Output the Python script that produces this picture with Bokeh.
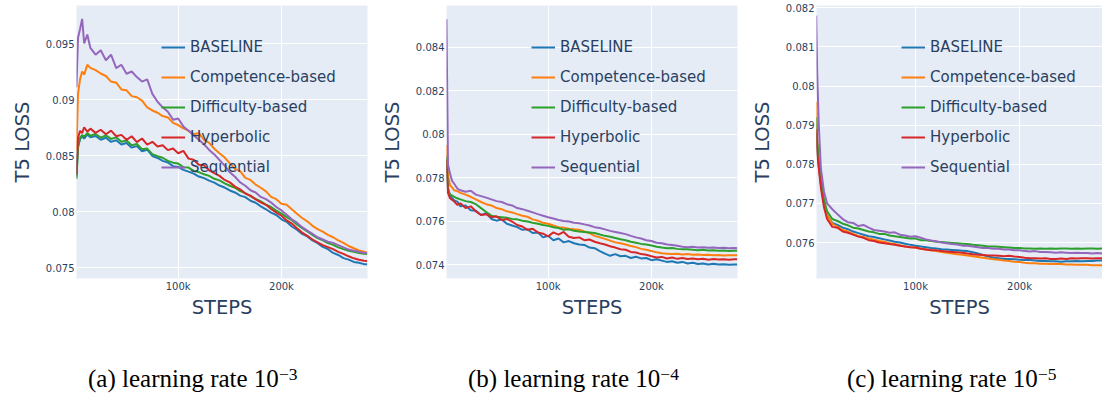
from bokeh.plotting import figure
from bokeh.models import FixedTicker, Range1d, Legend, LegendItem, Div
from bokeh.layouts import row, column
from bokeh.embed import file_html
from bokeh.resources import INLINE

series_names = ["BASELINE", "Competence-based", "Difficulty-based", "Hyperbolic", "Sequential"]
colors = ["#1f77b4", "#ff7f0e", "#2ca02c", "#d62728", "#9467bd"]

# training steps (thousands)
steps_ab_k = [1.5, 3, 5, 7, 9, 12, 15, 20, 25, 30, 35, 40, 45, 50, 55, 60, 65, 70, 75, 80,
              85, 90, 95, 100, 105, 110, 115, 120, 125, 130, 135, 140, 145, 150, 155, 160,
              165, 170, 175, 180, 185, 190, 195, 200, 205, 210, 215, 220, 225, 230, 235,
              240, 245, 250, 255, 260, 265, 270, 275, 280, 283]
steps_c_k = [4.5, 5.5, 7, 9, 12, 15, 20, 25, 30, 35, 40, 45, 50, 55, 60, 65, 70, 75, 80,
             85, 90, 95, 100, 105, 110, 115, 120, 125, 130, 135, 140, 145, 150, 155, 160,
             165, 170, 175, 180, 185, 190, 195, 200, 205, 210, 215, 220, 225, 230, 235,
             240, 245, 250, 255, 260, 265, 270, 275, 280, 283]

# (a) learning rate 1e-3
a_baseline = [0.08310, 0.08580, 0.08645, 0.08672, 0.08650, 0.08688, 0.08662, 0.08674, 0.08641, 0.08658,
              0.08622, 0.08636, 0.08598, 0.08612, 0.08570, 0.08584, 0.08538, 0.08552, 0.08496, 0.08478,
              0.08452, 0.08438, 0.08405, 0.08398, 0.08372, 0.08356, 0.08338, 0.08312, 0.08298, 0.08276,
              0.08258, 0.08232, 0.08214, 0.08188, 0.08170, 0.08142, 0.08128, 0.08096, 0.08078, 0.08046,
              0.08020, 0.07990, 0.07968, 0.07930, 0.07908, 0.07866, 0.07838, 0.07800, 0.07778, 0.07742,
              0.07718, 0.07684, 0.07664, 0.07630, 0.07612, 0.07584, 0.07570, 0.07550, 0.07542, 0.07530,
              0.07528]
a_competence = [0.08550, 0.09050, 0.09180, 0.09250, 0.09222, 0.09310, 0.09282, 0.09262, 0.09232, 0.09210,
                0.09160, 0.09150, 0.09090, 0.09082, 0.09030, 0.09020, 0.08990, 0.08930, 0.08902, 0.08882,
                0.08852, 0.08840, 0.08792, 0.08772, 0.08742, 0.08722, 0.08690, 0.08700, 0.08640, 0.08612,
                0.08560, 0.08520, 0.08482, 0.08430, 0.08380, 0.08360, 0.08300, 0.08282, 0.08240, 0.08212,
                0.08180, 0.08130, 0.08110, 0.08070, 0.08060, 0.08020, 0.07980, 0.07942, 0.07912, 0.07872,
                0.07842, 0.07820, 0.07792, 0.07770, 0.07742, 0.07720, 0.07692, 0.07672, 0.07652, 0.07640,
                0.07632]
a_difficulty = [0.08290, 0.08570, 0.08660, 0.08682, 0.08668, 0.08700, 0.08676, 0.08692, 0.08660, 0.08680,
                0.08648, 0.08662, 0.08622, 0.08634, 0.08592, 0.08602, 0.08556, 0.08562, 0.08512, 0.08494,
                0.08480, 0.08452, 0.08436, 0.08428, 0.08396, 0.08392, 0.08362, 0.08352, 0.08332, 0.08318,
                0.08292, 0.08278, 0.08252, 0.08230, 0.08212, 0.08182, 0.08164, 0.08138, 0.08112, 0.08090,
                0.08062, 0.08040, 0.08008, 0.07982, 0.07950, 0.07922, 0.07884, 0.07852, 0.07822, 0.07792,
                0.07762, 0.07742, 0.07718, 0.07702, 0.07680, 0.07664, 0.07650, 0.07640, 0.07630, 0.07622,
                0.07620]
a_hyperbolic = [0.08330, 0.08660, 0.08720, 0.08700, 0.08752, 0.08712, 0.08740, 0.08702, 0.08730, 0.08690,
                0.08722, 0.08672, 0.08684, 0.08640, 0.08672, 0.08620, 0.08652, 0.08598, 0.08622, 0.08580,
                0.08592, 0.08548, 0.08562, 0.08520, 0.08542, 0.08472, 0.08462, 0.08418, 0.08412, 0.08368,
                0.08342, 0.08318, 0.08282, 0.08260, 0.08222, 0.08198, 0.08160, 0.08142, 0.08108, 0.08082,
                0.08060, 0.08022, 0.07990, 0.07962, 0.07920, 0.07892, 0.07850, 0.07812, 0.07782, 0.07750,
                0.07724, 0.07700, 0.07682, 0.07664, 0.07640, 0.07622, 0.07600, 0.07582, 0.07570, 0.07560,
                0.07558]
a_sequential = [0.09110, 0.09550, 0.09630, 0.09720, 0.09500, 0.09580, 0.09460, 0.09400, 0.09440, 0.09350,
                0.09400, 0.09280, 0.09310, 0.09230, 0.09250, 0.09200, 0.09160, 0.09180, 0.09050, 0.08980,
                0.08930, 0.08890, 0.08820, 0.08830, 0.08760, 0.08720, 0.08680, 0.08640, 0.08600, 0.08550,
                0.08510, 0.08460, 0.08410, 0.08350, 0.08310, 0.08260, 0.08230, 0.08190, 0.08170, 0.08130,
                0.08110, 0.08080, 0.08040, 0.08010, 0.07970, 0.07930, 0.07900, 0.07860, 0.07830, 0.07800,
                0.07770, 0.07750, 0.07730, 0.07720, 0.07700, 0.07680, 0.07660, 0.07650, 0.07640, 0.07630,
                0.07630]

# (b) learning rate 1e-4
b_baseline = [0.07900, 0.07752, 0.07718, 0.07705, 0.07695, 0.07690, 0.07668, 0.07672, 0.07650, 0.07648,
              0.07628, 0.07636, 0.07610, 0.07602, 0.07608, 0.07588, 0.07580, 0.07572, 0.07560, 0.07562,
              0.07545, 0.07548, 0.07525, 0.07532, 0.07512, 0.07520, 0.07502, 0.07508, 0.07498, 0.07492,
              0.07490, 0.07478, 0.07475, 0.07462, 0.07450, 0.07440, 0.07448, 0.07438, 0.07440, 0.07430,
              0.07436, 0.07428, 0.07430, 0.07420, 0.07424, 0.07418, 0.07412, 0.07415, 0.07408, 0.07412,
              0.07405, 0.07408, 0.07402, 0.07405, 0.07400, 0.07403, 0.07400, 0.07401, 0.07399, 0.07400,
              0.07400]
b_competence = [0.07950, 0.07810, 0.07765, 0.07755, 0.07742, 0.07738, 0.07730, 0.07722, 0.07712, 0.07700,
                0.07688, 0.07678, 0.07672, 0.07660, 0.07655, 0.07645, 0.07640, 0.07632, 0.07625, 0.07620,
                0.07608, 0.07602, 0.07592, 0.07588, 0.07580, 0.07572, 0.07570, 0.07565, 0.07562, 0.07560,
                0.07552, 0.07545, 0.07532, 0.07525, 0.07518, 0.07510, 0.07502, 0.07498, 0.07492, 0.07485,
                0.07480, 0.07472, 0.07468, 0.07462, 0.07456, 0.07452, 0.07450, 0.07448, 0.07450, 0.07446,
                0.07448, 0.07445, 0.07446, 0.07444, 0.07445, 0.07443, 0.07444, 0.07442, 0.07443, 0.07443,
                0.07443]
b_difficulty = [0.07890, 0.07745, 0.07722, 0.07718, 0.07712, 0.07705, 0.07700, 0.07692, 0.07688, 0.07678,
                0.07660, 0.07642, 0.07625, 0.07620, 0.07618, 0.07615, 0.07610, 0.07608, 0.07602, 0.07598,
                0.07592, 0.07588, 0.07582, 0.07578, 0.07572, 0.07568, 0.07560, 0.07562, 0.07555, 0.07552,
                0.07550, 0.07548, 0.07545, 0.07538, 0.07532, 0.07528, 0.07522, 0.07516, 0.07512, 0.07505,
                0.07500, 0.07495, 0.07492, 0.07488, 0.07482, 0.07478, 0.07475, 0.07476, 0.07472, 0.07470,
                0.07470, 0.07468, 0.07466, 0.07468, 0.07465, 0.07466, 0.07463, 0.07464, 0.07462, 0.07463,
                0.07463]
b_hyperbolic = [0.07880, 0.07730, 0.07705, 0.07698, 0.07690, 0.07675, 0.07682, 0.07660, 0.07668, 0.07645,
                0.07628, 0.07632, 0.07618, 0.07622, 0.07605, 0.07610, 0.07598, 0.07582, 0.07575, 0.07560,
                0.07565, 0.07548, 0.07542, 0.07530, 0.07548, 0.07538, 0.07550, 0.07528, 0.07522, 0.07525,
                0.07512, 0.07515, 0.07505, 0.07498, 0.07492, 0.07484, 0.07478, 0.07470, 0.07468, 0.07458,
                0.07455, 0.07448, 0.07445, 0.07438, 0.07432, 0.07435, 0.07428, 0.07432, 0.07426, 0.07430,
                0.07425, 0.07428, 0.07424, 0.07426, 0.07422, 0.07425, 0.07423, 0.07424, 0.07422, 0.07424,
                0.07424]
b_sequential = [0.08530, 0.07860, 0.07818, 0.07785, 0.07772, 0.07750, 0.07742, 0.07735, 0.07740, 0.07722,
                0.07715, 0.07708, 0.07700, 0.07692, 0.07688, 0.07678, 0.07672, 0.07660, 0.07655, 0.07648,
                0.07640, 0.07632, 0.07625, 0.07618, 0.07612, 0.07605, 0.07600, 0.07598, 0.07592, 0.07590,
                0.07585, 0.07580, 0.07572, 0.07568, 0.07562, 0.07555, 0.07550, 0.07545, 0.07540, 0.07532,
                0.07525, 0.07520, 0.07512, 0.07508, 0.07500, 0.07498, 0.07492, 0.07490, 0.07486, 0.07482,
                0.07480, 0.07482, 0.07478, 0.07480, 0.07477, 0.07478, 0.07476, 0.07477, 0.07475, 0.07476,
                0.07475]

# (c) learning rate 1e-5
c_baseline = [0.07880, 0.07840, 0.07795, 0.07750, 0.07700, 0.07670, 0.07650,
              0.07645, 0.07638, 0.07634, 0.07628, 0.07624, 0.07620, 0.07616, 0.07614, 0.07611, 0.07608,
              0.07605, 0.07602, 0.07600, 0.07597, 0.07594, 0.07592, 0.07590, 0.07588, 0.07586, 0.07585,
              0.07583, 0.07582, 0.07581, 0.07580, 0.07579, 0.07578, 0.07575, 0.07572, 0.07568, 0.07564,
              0.07561, 0.07560, 0.07558, 0.07558, 0.07557, 0.07556, 0.07555, 0.07555, 0.07554, 0.07553,
              0.07553, 0.07552, 0.07552, 0.07551, 0.07552, 0.07552, 0.07553, 0.07552, 0.07553, 0.07553,
              0.07554, 0.07554, 0.07554]
c_competence = [0.07960, 0.07860, 0.07800, 0.07750, 0.07700, 0.07670, 0.07648,
                0.07640, 0.07632, 0.07628, 0.07622, 0.07617, 0.07614, 0.07610, 0.07607, 0.07604, 0.07602,
                0.07598, 0.07596, 0.07593, 0.07590, 0.07588, 0.07587, 0.07584, 0.07582, 0.07580, 0.07578,
                0.07576, 0.07574, 0.07572, 0.07570, 0.07569, 0.07567, 0.07565, 0.07563, 0.07561, 0.07559,
                0.07557, 0.07556, 0.07554, 0.07553, 0.07551, 0.07550, 0.07548, 0.07547, 0.07547, 0.07546,
                0.07546, 0.07545, 0.07546, 0.07545, 0.07544, 0.07544, 0.07543, 0.07543, 0.07543, 0.07542,
                0.07542, 0.07542, 0.07542]
c_difficulty = [0.07920, 0.07860, 0.07810, 0.07760, 0.07710, 0.07680, 0.07660,
                0.07655, 0.07648, 0.07644, 0.07638, 0.07636, 0.07632, 0.07628, 0.07626, 0.07622, 0.07622,
                0.07618, 0.07616, 0.07614, 0.07612, 0.07610, 0.07610, 0.07606, 0.07606, 0.07604, 0.07602,
                0.07601, 0.07600, 0.07599, 0.07598, 0.07597, 0.07596, 0.07594, 0.07593, 0.07592, 0.07590,
                0.07590, 0.07589, 0.07588, 0.07587, 0.07586, 0.07586, 0.07585, 0.07585, 0.07584, 0.07585,
                0.07584, 0.07585, 0.07584, 0.07585, 0.07585, 0.07584, 0.07585, 0.07584, 0.07585, 0.07585,
                0.07584, 0.07585, 0.07585]
c_hyperbolic = [0.07890, 0.07830, 0.07790, 0.07740, 0.07690, 0.07660, 0.07640,
                0.07638, 0.07628, 0.07625, 0.07620, 0.07615, 0.07612, 0.07606, 0.07604, 0.07600, 0.07598,
                0.07596, 0.07594, 0.07592, 0.07590, 0.07588, 0.07587, 0.07584, 0.07582, 0.07580, 0.07580,
                0.07578, 0.07577, 0.07576, 0.07575, 0.07574, 0.07572, 0.07570, 0.07569, 0.07568, 0.07567,
                0.07567, 0.07566, 0.07565, 0.07566, 0.07564, 0.07563, 0.07561, 0.07560, 0.07560, 0.07559,
                0.07560, 0.07558, 0.07558, 0.07559, 0.07558, 0.07560, 0.07559, 0.07560, 0.07560, 0.07559,
                0.07560, 0.07560, 0.07560]
c_sequential = [0.08180, 0.08030, 0.07900, 0.07790, 0.07730, 0.07700, 0.07685,
                0.07672, 0.07660, 0.07652, 0.07650, 0.07642, 0.07645, 0.07638, 0.07632, 0.07630, 0.07628,
                0.07625, 0.07626, 0.07620, 0.07618, 0.07615, 0.07616, 0.07612, 0.07608, 0.07605, 0.07603,
                0.07600, 0.07598, 0.07596, 0.07595, 0.07592, 0.07592, 0.07590, 0.07588, 0.07586, 0.07586,
                0.07584, 0.07584, 0.07582, 0.07582, 0.07580, 0.07580, 0.07578, 0.07577, 0.07578, 0.07576,
                0.07576, 0.07575, 0.07574, 0.07575, 0.07574, 0.07573, 0.07574, 0.07573, 0.07573, 0.07572,
                0.07573, 0.07572, 0.07572]

x_ticks = [100000, 200000]
x_tick_labels = ["100k", "200k"]
a_yticks = [0.075, 0.08, 0.085, 0.09, 0.095]
a_ylabels = ["0.075", "0.08", "0.085", "0.09", "0.095"]
b_yticks = [0.074, 0.076, 0.078, 0.08, 0.082, 0.084]
b_ylabels = ["0.074", "0.076", "0.078", "0.08", "0.082", "0.084"]
c_yticks = [0.076, 0.077, 0.078, 0.079, 0.08, 0.081, 0.082]
c_ylabels = ["0.076", "0.077", "0.078", "0.079", "0.08", "0.081", "0.082"]

captions = [("(a) learning rate 10", "\u22123"), ("(b) learning rate 10", "\u22124"), ("(c) learning rate 10", "\u22125")]

TXT = "#2a3f5f"
FONT = "DejaVu Sans"
FIG_H = 362


def make_panel(steps_k, series, xr, yr, yticks, ylabels, width, left, right):
    steps = [s * 1000 for s in steps_k]
    p = figure(width=width, height=FIG_H, x_range=Range1d(*xr), y_range=Range1d(*yr),
               output_backend="svg", toolbar_location=None,
               min_border_left=left, min_border_right=right, min_border_top=5,
               min_border_bottom=FIG_H - 278,
               background_fill_color="#E5ECF6", border_fill_color="white", outline_line_color=None)
    p.grid.grid_line_color = "white"
    p.grid.grid_line_width = 1
    p.xaxis.ticker = FixedTicker(ticks=x_ticks)
    p.xaxis.major_label_overrides = dict(zip(x_ticks, x_tick_labels))
    p.yaxis.ticker = FixedTicker(ticks=yticks)
    p.yaxis.major_label_overrides = dict(zip(yticks, ylabels))
    for ax in (p.xaxis, p.yaxis):
        ax.axis_line_color = None
        ax.major_tick_line_color = None
        ax.minor_tick_line_color = None
        ax.major_tick_out = 0
        ax.major_tick_in = 0
        ax.major_label_text_font = FONT
        ax.major_label_text_font_size = "10px"
        ax.major_label_text_color = TXT
        ax.axis_label_text_font = FONT
        ax.axis_label_text_font_size = "19.5px"
        ax.axis_label_text_font_style = "normal"
        ax.axis_label_text_color = TXT
    p.xaxis.axis_label = "STEPS"
    p.yaxis.axis_label = "T5 LOSS"
    p.xaxis.major_label_standoff = 2
    p.xaxis.axis_label_standoff = 1
    p.yaxis.major_label_standoff = 2
    p.yaxis.axis_label_standoff = 9

    items = []
    for name, color, ys in zip(series_names, colors, series):
        r = p.line(steps, ys, line_color=color, line_width=2)
        items.append(LegendItem(label=name, renderers=[r]))
    legend = Legend(items=items, location=(85, 101), orientation="vertical",
                    label_text_font=FONT, label_text_font_size="15px", label_text_color=TXT,
                    glyph_width=24, glyph_height=20, label_height=20, label_standoff=5,
                    spacing=10, padding=0, margin=0,
                    background_fill_alpha=0, border_line_alpha=0)
    p.add_layout(legend)
    return p


pa = make_panel(steps_ab_k, [a_baseline, a_competence, a_difficulty, a_hyperbolic, a_sequential],
                (1550, 283300), (0.074018, 0.098393), a_yticks, a_ylabels, 370, 76, 3)
pb = make_panel(steps_ab_k, [b_baseline, b_competence, b_difficulty, b_hyperbolic, b_sequential],
                (1550, 283300), (0.073355, 0.085935), b_yticks, b_ylabels, 370, 76, 3)
pc = make_panel(steps_c_k, [c_baseline, c_competence, c_difficulty, c_hyperbolic, c_sequential],
                (4800, 279800), (0.07508, 0.082059), c_yticks, c_ylabels, 362, 76, 0)


def caption_div(main, sup, width, pad):
    html = ('<div style="font-family:\'Liberation Serif\',serif; font-size:25px; line-height:24px; '
            'color:#000; white-space:nowrap; padding-left:%dpx;">%s<sup style="font-size:0.7em; '
            'vertical-align:0.42em; line-height:0;">%s</sup></div>' % (pad, main, sup))
    return Div(text=html, width=width, height=394 - FIG_H)


caps = row(caption_div(captions[0][0], captions[0][1], 370, 83),
           caption_div(captions[1][0], captions[1][1], 370, 83),
           caption_div(captions[2][0], captions[2][1], 362, 82))

layout = column(row(pa, pb, pc), caps)

open("out.html", "w").write(file_html(layout, INLINE))
